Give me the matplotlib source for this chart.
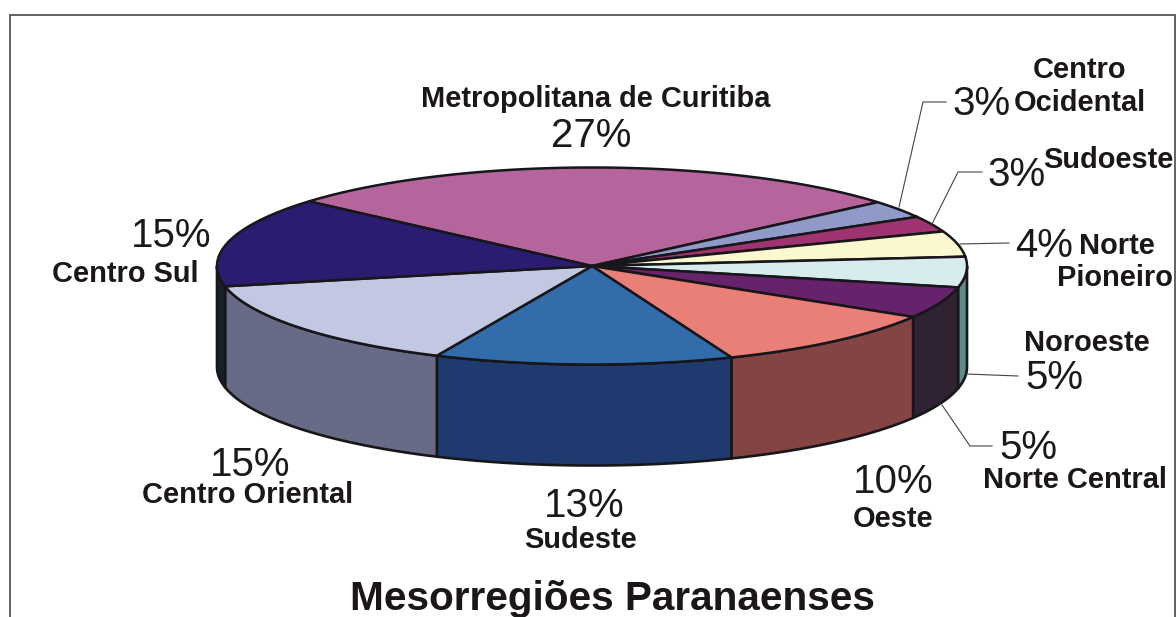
import numpy as np
import matplotlib
matplotlib.use("Agg")
import matplotlib.pyplot as plt

categories = ["Metropolitana de Curitiba", "Centro Ocidental", "Sudoeste", "Norte Pioneiro",
              "Noroeste", "Norte Central", "Oeste", "Sudeste", "Centro Oriental", "Centro Sul"]
values = [27.4, 2.9, 2.6, 4.2, 5.0, 5.15, 10.3, 12.85, 14.9, 14.7]
top_colors = ["#b5659b", "#8f9ac8", "#9e3370", "#fbf7cf", "#d8ecee",
              "#66226a", "#ea7f78", "#336cab", "#c2c7e2", "#2c1c71"]
side_colors = ["#5a324d", "#474d64", "#4f1938", "#7d7b67", "#5f8a8a",
               "#2f2233", "#854444", "#1e3a6e", "#676b85", "#1a1f2e"]
title = "Mesorregiões Paranaenses"

plt.rcParams["font.family"] = ["Liberation Sans", "DejaVu Sans"]
W, H = 1176, 617
fig = plt.figure(figsize=(W / 100, H / 100), dpi=100, facecolor="white")
ax = fig.add_axes([0, 0, 1, 1])
ax.set_xlim(0, W)
ax.set_ylim(H, 0)
ax.axis("off")

cx, cy, rx, ry, depth = 592, 266, 375, 98.5, 101
START = 139.0
EDGE = "#17161a"


def pt(theta_deg, dy=0.0):
    t = np.radians(theta_deg)
    return cx + rx * np.cos(t), cy - ry * np.sin(t) + dy


ends = START - np.cumsum(values) * 3.6
starts = np.concatenate([[START], ends[:-1]])

# side walls: only the part of the rim facing the viewer (180..360 deg)
for s, e, col in zip(starts, ends, side_colors):
    hi, lo = s, e
    for shift in (0, -360, 360):
        a = max(lo + shift, -180)
        b = min(hi + shift, 0)
        if b <= a:
            continue
        th = np.linspace(a, b, 80)
        x1, y1 = pt(th)
        x2, y2 = pt(th[::-1], depth)
        ax.fill(np.r_[x1, x2], np.r_[y1, y2], facecolor=col, edgecolor=EDGE, lw=1.9,
                joinstyle="round", zorder=2)

# top faces
for s, e, col in zip(starts, ends, top_colors):
    th = np.linspace(s, e, 120)
    x, y = pt(th)
    ax.fill(np.r_[cx, x], np.r_[cy, y], facecolor=col, edgecolor=EDGE, lw=1.8,
            joinstyle="round", zorder=3)

# frame (open at the bottom)
ax.plot([10, 10, 1175, 1175], [617, 15, 15, 617], color="#555555", lw=1.3, zorder=1,
        solid_joinstyle="miter", clip_on=False)

# leader lines
leaders = [
    ([899, 923, 946], [207, 102, 102]),
    ([932, 958, 982], [224, 172, 172]),
    ([960, 1009], [244, 243]),
    ([966, 1018], [374, 376]),
    ([942, 970, 992], [405, 446, 446]),
]
for lx, ly in leaders:
    ax.plot(lx, ly, color="#444444", lw=0.8, zorder=4)

TXT = "#1c1717"
pct_pos = [(591, 136), (982, 104), (1017, 175), (1044, 246), (1054, 378),
           (1028, 448), (893, 482), (584, 506), (250, 465), (171, 236)]
name_pos = [[(596, 99, "Metropolitana de Curitiba")],
            [(1080, 70, "Centro"), (1080, 103, "Ocidental")],
            [(1108, 160, "Sudoeste")],
            [(1117, 246, "Norte"), (1115, 278, "Pioneiro")],
            [(1087, 343, "Noroeste")],
            [(1075, 480, "Norte Central")],
            [(893, 519, "Oeste")],
            [(581, 540, "Sudeste")],
            [(248, 495, "Centro Oriental")],
            [(125, 274, "Centro Sul")]]
for v, (px, py), names in zip(values, pct_pos, name_pos):
    ax.text(px, py, f"{v:.0f}%", ha="center", va="center", fontsize=29, color="#1a1a1e", zorder=5)
    for nx, ny, s in names:
        ax.text(nx, ny, s, ha="center", va="center", fontsize=20.9, fontweight="bold",
                color=TXT, zorder=5)

ax.text(612, 599, title, ha="center", va="center", fontsize=29.2, fontweight="bold", color=TXT, zorder=5)

fig.savefig("out.png", dpi=100, facecolor="white")
